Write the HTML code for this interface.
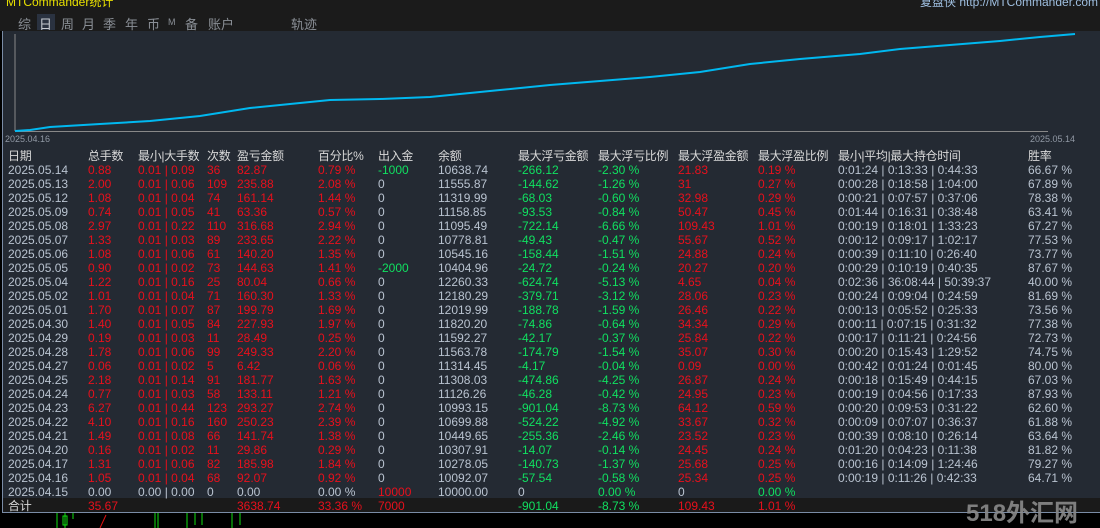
<!DOCTYPE html><html><head><meta charset="utf-8"><style>
*{margin:0;padding:0;box-sizing:border-box}
html{width:1100px;height:528px;overflow:hidden}
body{width:1100px;height:528px;background:#000;position:relative;overflow:hidden;font-family:"Liberation Sans","Noto Sans CJK SC",sans-serif;font-size:12px;color:#b9c3d0}
.top{position:absolute;left:0;top:0;width:1100px;height:31px;background:#1b1b1b}
.panel{position:absolute;left:2px;top:31px;width:1098px;height:482px;background:#242a33;border-left:1px solid #7a8ca6;border-bottom:1px solid #7a8ca6}
.tot{position:absolute;left:3px;top:498px;width:1097px;height:14px;background:#1a1a1a}
.r{position:absolute;left:0;height:14px;line-height:14px;white-space:nowrap}
.r span{position:absolute;top:0}
.h{color:#d8d8d8;font-size:12px;letter-spacing:-0.3px}
.R{color:#e8101c}.G{color:#10e060}
.c0{left:8px}.c1{left:88px}.c2{left:138px}.c3{left:207px}.c4{left:237px}.c5{left:318px}.c6{left:378px}.c7{left:438px}.c8{left:518px}.c9{left:598px}.c10{left:678px}.c11{left:758px}.c12{left:838px}.c13{left:1028px}
.tab{position:absolute;top:14px;color:#8a8f96;font-size:13px}
</style></head><body>
<div class="top"></div>
<div style="position:absolute;left:6px;top:-7px;color:#e8e000;font-size:12px">MTCommander统计</div>
<div style="position:absolute;left:920px;top:-7px;color:#9fbfe0;font-size:12px">复盘侠 http://MTCommander.com</div>
<div style="position:absolute;left:37px;top:14px;width:18px;height:16px;background:#2a3240"></div>
<div class="tab" style="left:18px">综</div><div class="tab" style="left:39px;color:#c8ccd2">日</div><div class="tab" style="left:61px">周</div><div class="tab" style="left:82px">月</div><div class="tab" style="left:103px">季</div><div class="tab" style="left:125px">年</div><div class="tab" style="left:147px">币</div><div class="tab" style="left:168px;font-size:9px;top:17px">M</div><div class="tab" style="left:185px">备</div><div class="tab" style="left:208px">账户</div><div class="tab" style="left:291px">轨迹</div>
<div class="panel"></div>
<div class="tot"></div>
<svg style="position:absolute;left:0;top:0" width="1100" height="150">
<line x1="15" y1="34" x2="15" y2="131" stroke="#888" stroke-width="1"/>
<line x1="15" y1="131.5" x2="1048" y2="131.5" stroke="#888" stroke-width="1"/>
<polyline fill="none" stroke="#00b8f0" stroke-width="2" points="15,131 30,130 50,127 100,124 150,121 200,116 250,108 300,103 330,100 380,99 430,97 450,95 500,90 550,85 600,81 650,77 700,72 750,64 800,59 860,54 900,49 950,45 1000,41 1040,37 1075,34"/>
<text x="5" y="142" fill="#9098a4" font-size="9" font-family="Liberation Sans">2025.04.16</text>
<text x="1030" y="142" fill="#9098a4" font-size="9" font-family="Liberation Sans">2025.05.14</text>
</svg>
<div class="r h" style="top:149px"><span class="c0">日期</span><span class="c1">总手数</span><span class="c2">最小|大手数</span><span class="c3">次数</span><span class="c4">盈亏金额</span><span class="c5">百分比%</span><span class="c6">出入金</span><span class="c7">余额</span><span class="c8">最大浮亏金额</span><span class="c9">最大浮亏比例</span><span class="c10">最大浮盈金额</span><span class="c11">最大浮盈比例</span><span class="c12">最小|平均|最大持仓时间</span><span class="c13">胜率</span></div>
<div class="r" style="top:163px"><span class="c0">2025.05.14</span><span class="c1 R">0.88</span><span class="c2 R">0.01 | 0.09</span><span class="c3 R">36</span><span class="c4 R">82.87</span><span class="c5 R">0.79 %</span><span class="c6 G">-1000</span><span class="c7">10638.74</span><span class="c8 G">-266.12</span><span class="c9 G">-2.30 %</span><span class="c10 R">21.83</span><span class="c11 R">0.19 %</span><span class="c12">0:01:24 | 0:13:33 | 0:44:33</span><span class="c13">66.67 %</span></div>
<div class="r" style="top:177px"><span class="c0">2025.05.13</span><span class="c1 R">2.00</span><span class="c2 R">0.01 | 0.06</span><span class="c3 R">109</span><span class="c4 R">235.88</span><span class="c5 R">2.08 %</span><span class="c6">0</span><span class="c7">11555.87</span><span class="c8 G">-144.62</span><span class="c9 G">-1.26 %</span><span class="c10 R">31</span><span class="c11 R">0.27 %</span><span class="c12">0:00:28 | 0:18:58 | 1:04:00</span><span class="c13">67.89 %</span></div>
<div class="r" style="top:191px"><span class="c0">2025.05.12</span><span class="c1 R">1.08</span><span class="c2 R">0.01 | 0.04</span><span class="c3 R">74</span><span class="c4 R">161.14</span><span class="c5 R">1.44 %</span><span class="c6">0</span><span class="c7">11319.99</span><span class="c8 G">-68.03</span><span class="c9 G">-0.60 %</span><span class="c10 R">32.98</span><span class="c11 R">0.29 %</span><span class="c12">0:00:21 | 0:07:57 | 0:37:06</span><span class="c13">78.38 %</span></div>
<div class="r" style="top:205px"><span class="c0">2025.05.09</span><span class="c1 R">0.74</span><span class="c2 R">0.01 | 0.05</span><span class="c3 R">41</span><span class="c4 R">63.36</span><span class="c5 R">0.57 %</span><span class="c6">0</span><span class="c7">11158.85</span><span class="c8 G">-93.53</span><span class="c9 G">-0.84 %</span><span class="c10 R">50.47</span><span class="c11 R">0.45 %</span><span class="c12">0:01:44 | 0:16:31 | 0:38:48</span><span class="c13">63.41 %</span></div>
<div class="r" style="top:219px"><span class="c0">2025.05.08</span><span class="c1 R">2.97</span><span class="c2 R">0.01 | 0.22</span><span class="c3 R">110</span><span class="c4 R">316.68</span><span class="c5 R">2.94 %</span><span class="c6">0</span><span class="c7">11095.49</span><span class="c8 G">-722.14</span><span class="c9 G">-6.66 %</span><span class="c10 R">109.43</span><span class="c11 R">1.01 %</span><span class="c12">0:00:19 | 0:18:01 | 1:33:23</span><span class="c13">67.27 %</span></div>
<div class="r" style="top:233px"><span class="c0">2025.05.07</span><span class="c1 R">1.33</span><span class="c2 R">0.01 | 0.03</span><span class="c3 R">89</span><span class="c4 R">233.65</span><span class="c5 R">2.22 %</span><span class="c6">0</span><span class="c7">10778.81</span><span class="c8 G">-49.43</span><span class="c9 G">-0.47 %</span><span class="c10 R">55.67</span><span class="c11 R">0.52 %</span><span class="c12">0:00:12 | 0:09:17 | 1:02:17</span><span class="c13">77.53 %</span></div>
<div class="r" style="top:247px"><span class="c0">2025.05.06</span><span class="c1 R">1.08</span><span class="c2 R">0.01 | 0.06</span><span class="c3 R">61</span><span class="c4 R">140.20</span><span class="c5 R">1.35 %</span><span class="c6">0</span><span class="c7">10545.16</span><span class="c8 G">-158.44</span><span class="c9 G">-1.51 %</span><span class="c10 R">24.88</span><span class="c11 R">0.24 %</span><span class="c12">0:00:39 | 0:11:10 | 0:26:40</span><span class="c13">73.77 %</span></div>
<div class="r" style="top:261px"><span class="c0">2025.05.05</span><span class="c1 R">0.90</span><span class="c2 R">0.01 | 0.02</span><span class="c3 R">73</span><span class="c4 R">144.63</span><span class="c5 R">1.41 %</span><span class="c6 G">-2000</span><span class="c7">10404.96</span><span class="c8 G">-24.72</span><span class="c9 G">-0.24 %</span><span class="c10 R">20.27</span><span class="c11 R">0.20 %</span><span class="c12">0:00:29 | 0:10:19 | 0:40:35</span><span class="c13">87.67 %</span></div>
<div class="r" style="top:275px"><span class="c0">2025.05.04</span><span class="c1 R">1.22</span><span class="c2 R">0.01 | 0.16</span><span class="c3 R">25</span><span class="c4 R">80.04</span><span class="c5 R">0.66 %</span><span class="c6">0</span><span class="c7">12260.33</span><span class="c8 G">-624.74</span><span class="c9 G">-5.13 %</span><span class="c10 R">4.65</span><span class="c11 R">0.04 %</span><span class="c12">0:02:36 | 36:08:44 | 50:39:37</span><span class="c13">40.00 %</span></div>
<div class="r" style="top:289px"><span class="c0">2025.05.02</span><span class="c1 R">1.01</span><span class="c2 R">0.01 | 0.04</span><span class="c3 R">71</span><span class="c4 R">160.30</span><span class="c5 R">1.33 %</span><span class="c6">0</span><span class="c7">12180.29</span><span class="c8 G">-379.71</span><span class="c9 G">-3.12 %</span><span class="c10 R">28.06</span><span class="c11 R">0.23 %</span><span class="c12">0:00:24 | 0:09:04 | 0:24:59</span><span class="c13">81.69 %</span></div>
<div class="r" style="top:303px"><span class="c0">2025.05.01</span><span class="c1 R">1.70</span><span class="c2 R">0.01 | 0.07</span><span class="c3 R">87</span><span class="c4 R">199.79</span><span class="c5 R">1.69 %</span><span class="c6">0</span><span class="c7">12019.99</span><span class="c8 G">-188.78</span><span class="c9 G">-1.59 %</span><span class="c10 R">26.46</span><span class="c11 R">0.22 %</span><span class="c12">0:00:13 | 0:05:52 | 0:25:33</span><span class="c13">73.56 %</span></div>
<div class="r" style="top:317px"><span class="c0">2025.04.30</span><span class="c1 R">1.40</span><span class="c2 R">0.01 | 0.05</span><span class="c3 R">84</span><span class="c4 R">227.93</span><span class="c5 R">1.97 %</span><span class="c6">0</span><span class="c7">11820.20</span><span class="c8 G">-74.86</span><span class="c9 G">-0.64 %</span><span class="c10 R">34.34</span><span class="c11 R">0.29 %</span><span class="c12">0:00:11 | 0:07:15 | 0:31:32</span><span class="c13">77.38 %</span></div>
<div class="r" style="top:331px"><span class="c0">2025.04.29</span><span class="c1 R">0.19</span><span class="c2 R">0.01 | 0.03</span><span class="c3 R">11</span><span class="c4 R">28.49</span><span class="c5 R">0.25 %</span><span class="c6">0</span><span class="c7">11592.27</span><span class="c8 G">-42.17</span><span class="c9 G">-0.37 %</span><span class="c10 R">25.84</span><span class="c11 R">0.22 %</span><span class="c12">0:00:17 | 0:11:21 | 0:24:56</span><span class="c13">72.73 %</span></div>
<div class="r" style="top:345px"><span class="c0">2025.04.28</span><span class="c1 R">1.78</span><span class="c2 R">0.01 | 0.06</span><span class="c3 R">99</span><span class="c4 R">249.33</span><span class="c5 R">2.20 %</span><span class="c6">0</span><span class="c7">11563.78</span><span class="c8 G">-174.79</span><span class="c9 G">-1.54 %</span><span class="c10 R">35.07</span><span class="c11 R">0.30 %</span><span class="c12">0:00:20 | 0:15:43 | 1:29:52</span><span class="c13">74.75 %</span></div>
<div class="r" style="top:359px"><span class="c0">2025.04.27</span><span class="c1 R">0.06</span><span class="c2 R">0.01 | 0.02</span><span class="c3 R">5</span><span class="c4 R">6.42</span><span class="c5 R">0.06 %</span><span class="c6">0</span><span class="c7">11314.45</span><span class="c8 G">-4.17</span><span class="c9 G">-0.04 %</span><span class="c10 R">0.09</span><span class="c11 R">0.00 %</span><span class="c12">0:00:42 | 0:01:24 | 0:01:45</span><span class="c13">80.00 %</span></div>
<div class="r" style="top:373px"><span class="c0">2025.04.25</span><span class="c1 R">2.18</span><span class="c2 R">0.01 | 0.14</span><span class="c3 R">91</span><span class="c4 R">181.77</span><span class="c5 R">1.63 %</span><span class="c6">0</span><span class="c7">11308.03</span><span class="c8 G">-474.86</span><span class="c9 G">-4.25 %</span><span class="c10 R">26.87</span><span class="c11 R">0.24 %</span><span class="c12">0:00:18 | 0:15:49 | 0:44:15</span><span class="c13">67.03 %</span></div>
<div class="r" style="top:387px"><span class="c0">2025.04.24</span><span class="c1 R">0.77</span><span class="c2 R">0.01 | 0.03</span><span class="c3 R">58</span><span class="c4 R">133.11</span><span class="c5 R">1.21 %</span><span class="c6">0</span><span class="c7">11126.26</span><span class="c8 G">-46.28</span><span class="c9 G">-0.42 %</span><span class="c10 R">24.95</span><span class="c11 R">0.23 %</span><span class="c12">0:00:19 | 0:04:56 | 0:17:33</span><span class="c13">87.93 %</span></div>
<div class="r" style="top:401px"><span class="c0">2025.04.23</span><span class="c1 R">6.27</span><span class="c2 R">0.01 | 0.44</span><span class="c3 R">123</span><span class="c4 R">293.27</span><span class="c5 R">2.74 %</span><span class="c6">0</span><span class="c7">10993.15</span><span class="c8 G">-901.04</span><span class="c9 G">-8.73 %</span><span class="c10 R">64.12</span><span class="c11 R">0.59 %</span><span class="c12">0:00:20 | 0:09:53 | 0:31:22</span><span class="c13">62.60 %</span></div>
<div class="r" style="top:415px"><span class="c0">2025.04.22</span><span class="c1 R">4.10</span><span class="c2 R">0.01 | 0.16</span><span class="c3 R">160</span><span class="c4 R">250.23</span><span class="c5 R">2.39 %</span><span class="c6">0</span><span class="c7">10699.88</span><span class="c8 G">-524.22</span><span class="c9 G">-4.92 %</span><span class="c10 R">33.67</span><span class="c11 R">0.32 %</span><span class="c12">0:00:09 | 0:07:07 | 0:36:37</span><span class="c13">61.88 %</span></div>
<div class="r" style="top:429px"><span class="c0">2025.04.21</span><span class="c1 R">1.49</span><span class="c2 R">0.01 | 0.08</span><span class="c3 R">66</span><span class="c4 R">141.74</span><span class="c5 R">1.38 %</span><span class="c6">0</span><span class="c7">10449.65</span><span class="c8 G">-255.36</span><span class="c9 G">-2.46 %</span><span class="c10 R">23.52</span><span class="c11 R">0.23 %</span><span class="c12">0:00:39 | 0:08:10 | 0:26:14</span><span class="c13">63.64 %</span></div>
<div class="r" style="top:443px"><span class="c0">2025.04.20</span><span class="c1 R">0.16</span><span class="c2 R">0.01 | 0.02</span><span class="c3 R">11</span><span class="c4 R">29.86</span><span class="c5 R">0.29 %</span><span class="c6">0</span><span class="c7">10307.91</span><span class="c8 G">-14.07</span><span class="c9 G">-0.14 %</span><span class="c10 R">24.45</span><span class="c11 R">0.24 %</span><span class="c12">0:01:20 | 0:04:23 | 0:11:38</span><span class="c13">81.82 %</span></div>
<div class="r" style="top:457px"><span class="c0">2025.04.17</span><span class="c1 R">1.31</span><span class="c2 R">0.01 | 0.06</span><span class="c3 R">82</span><span class="c4 R">185.98</span><span class="c5 R">1.84 %</span><span class="c6">0</span><span class="c7">10278.05</span><span class="c8 G">-140.73</span><span class="c9 G">-1.37 %</span><span class="c10 R">25.68</span><span class="c11 R">0.25 %</span><span class="c12">0:00:16 | 0:14:09 | 1:24:46</span><span class="c13">79.27 %</span></div>
<div class="r" style="top:471px"><span class="c0">2025.04.16</span><span class="c1 R">1.05</span><span class="c2 R">0.01 | 0.04</span><span class="c3 R">68</span><span class="c4 R">92.07</span><span class="c5 R">0.92 %</span><span class="c6">0</span><span class="c7">10092.07</span><span class="c8 G">-57.54</span><span class="c9 G">-0.58 %</span><span class="c10 R">25.34</span><span class="c11 R">0.25 %</span><span class="c12">0:00:19 | 0:11:26 | 0:42:33</span><span class="c13">64.71 %</span></div>
<div class="r" style="top:485px"><span class="c0">2025.04.15</span><span class="c1">0.00</span><span class="c2">0.00 | 0.00</span><span class="c3">0</span><span class="c4">0.00</span><span class="c5">0.00 %</span><span class="c6 R">10000</span><span class="c7">10000.00</span><span class="c8">0</span><span class="c9 G">0.00 %</span><span class="c10">0</span><span class="c11 G">0.00 %</span></div>
<div class="r" style="top:499px"><span class="c0 h">合计</span><span class="c1 R">35.67</span><span class="c4 R">3638.74</span><span class="c5 R">33.36 %</span><span class="c6 R">7000</span><span class="c8 G">-901.04</span><span class="c9 G">-8.73 %</span><span class="c10 R">109.43</span><span class="c11 R">1.01 %</span></div>
<svg style="position:absolute;left:0;top:513px" width="400" height="15">
<g stroke="#10e010" fill="none"><line x1="57" y1="0" x2="57" y2="15"/><line x1="65" y1="0" x2="65" y2="15"/><rect x="63" y="3" width="4" height="9"/><line x1="73" y1="0" x2="73" y2="6"/><line x1="155" y1="0" x2="155" y2="15"/><line x1="158" y1="0" x2="158" y2="15"/><line x1="187" y1="0" x2="187" y2="15"/><line x1="195" y1="0" x2="195" y2="12"/><line x1="202" y1="0" x2="202" y2="12"/><line x1="232" y1="0" x2="232" y2="15"/><line x1="240" y1="0" x2="240" y2="12"/></g>
<line x1="106" y1="2" x2="100" y2="15" stroke="#e01010"/>
</svg>
<div style="position:absolute;left:966px;top:500px;height:28px;line-height:28px;overflow:hidden;color:#8a8a8a;font-size:24px;font-weight:bold;font-family:'Liberation Sans','Noto Sans CJK SC',sans-serif;opacity:.9">518外汇网</div>
</body></html>
